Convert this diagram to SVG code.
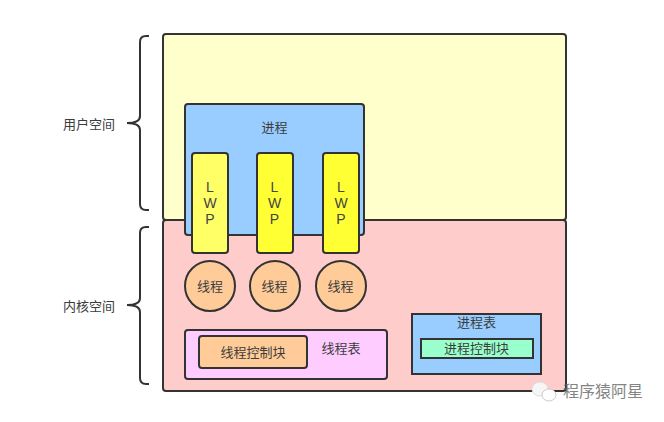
<svg xmlns="http://www.w3.org/2000/svg" width="664" height="422" viewBox="0 0 664 422">
<style>
.s{stroke:#333;stroke-width:2}
.b{fill:none;stroke:#333;stroke-width:2}
text{font-family:"Noto Sans CJK SC","Liberation Sans",sans-serif;font-size:13px;fill:#3c3c3c;text-anchor:middle}
.l{font-family:"Liberation Sans","Noto Sans CJK SC",sans-serif;font-size:14px;fill:#444}
.wm{font-size:16px;fill:#666;opacity:.8}
</style>
<rect width="664" height="422" fill="#fff"/>
<g id="user-space"><rect class="s" x="163" y="34" width="403" height="186" rx="3" fill="#ffffcc"/></g>
<g id="kernel-space"><rect class="s" x="163" y="220" width="403" height="171" rx="3" fill="#ffcccc"/></g>
<g id="process"><rect class="s" x="185" y="104" width="179" height="131" rx="3" fill="#99ccff"/><text x="274.500" y="131.500">进程</text></g>
<g id="lwp1"><rect class="s" x="192" y="153" width="36" height="100" rx="3" fill="#ffff66"/><text class="l" x="210" y="192">L</text><text class="l" x="210" y="208">W</text><text class="l" x="210" y="224">P</text></g>
<g id="lwp2"><rect class="s" x="257" y="153" width="36" height="100" rx="3" fill="#ffff33"/><text class="l" x="274.500" y="192">L</text><text class="l" x="274.500" y="208">W</text><text class="l" x="274.500" y="224">P</text></g>
<g id="lwp3"><rect class="s" x="323" y="153" width="36" height="100" rx="3" fill="#ffff33"/><text class="l" x="341" y="192">L</text><text class="l" x="341" y="208">W</text><text class="l" x="341" y="224">P</text></g>
<g id="thread1"><circle class="s" cx="210" cy="286" r="25" fill="#ffcc99"/><text x="210" y="290.500">线程</text></g>
<g id="thread2"><circle class="s" cx="275" cy="286" r="25" fill="#ffcc99"/><text x="274.500" y="290.500">线程</text></g>
<g id="thread3"><circle class="s" cx="341" cy="286" r="25" fill="#ffcc99"/><text x="340.500" y="290.500">线程</text></g>
<g id="thread-table"><rect class="s" x="185" y="330" width="202" height="49" rx="3" fill="#ffccff"/><text x="341" y="352.500">线程表</text></g>
<g id="tcb"><rect class="s" x="199" y="336" width="108" height="32" rx="3" fill="#ffcc99"/><text x="253" y="356.500">线程控制块</text></g>
<g id="process-table"><rect class="s" x="412" y="314" width="129" height="60" fill="#99ccff"/><text x="476.500" y="326.500">进程表</text></g>
<g id="pcb"><rect class="s" x="421" y="339" width="112" height="19" fill="#99ffcc"/><text x="476.500" y="352.500">进程控制块</text></g>
<g id="label-user"><text x="89" y="128.500">用户空间</text></g>
<g id="label-kernel"><text x="89" y="310.500">内核空间</text></g>
<g id="connectors">
<path class="b" d="M149 36H146Q140 36 140 42V116Q140 123 127 123Q140 123 140 130V204Q140 210 146 210H149"/>
<path class="b" d="M149 227H146Q140 227 140 233V298Q140 305 127 305Q140 305 140 312V378Q140 384 146 384H149"/>
</g>
<g id="watermark">
<ellipse cx="540" cy="389" rx="8" ry="7" fill="#f6f6f6" stroke="#ddd"/>
<ellipse cx="549" cy="395" rx="7" ry="6" fill="#fff" stroke="#ccc"/>
<text class="wm" x="603" y="396.500">程序猿阿星</text>
</g>
</svg>
